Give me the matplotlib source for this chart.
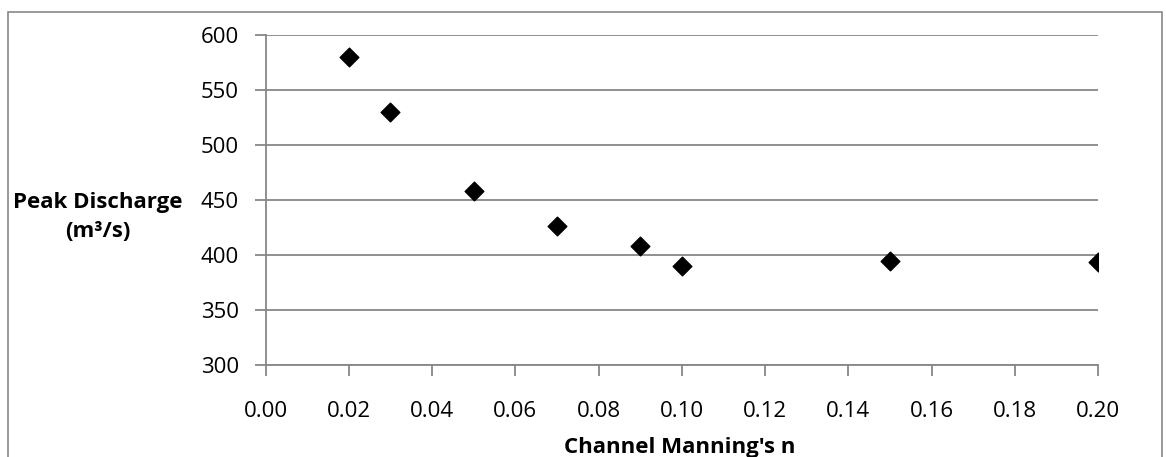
import matplotlib
matplotlib.use("Agg")
import matplotlib.pyplot as plt
from matplotlib.patches import Rectangle

manning_n = [0.02, 0.03, 0.05, 0.07, 0.09, 0.10, 0.15, 0.20]
peak_discharge = [580, 530, 458, 426, 408, 390, 394.5, 393.5]
x_ticks = [0.00, 0.02, 0.04, 0.06, 0.08, 0.10, 0.12, 0.14, 0.16, 0.18, 0.20]
y_ticks = [300, 350, 400, 450, 500, 550, 600]

plt.rcParams['font.family'] = ['Open Sans', 'DejaVu Sans']
W, H = 1166, 457
fig = plt.figure(figsize=(W / 100, H / 100), dpi=100)
grey = '#878787'

# outer chart border
fig.patches.append(Rectangle((8 / W, -0.1), (1162 - 8) / W, 1.1 - 12 / H,
                             transform=fig.transFigure, fill=False,
                             edgecolor=grey, linewidth=1.2))

ax = fig.add_axes([265.5 / W, 1 - 365 / H, (1098 - 265.5) / W, (365 - 35) / H])
ax.scatter(manning_n, peak_discharge, marker='D', s=9.5 ** 2, color='black', zorder=3)

ax.set_xlim(0, 0.20)
ax.set_ylim(300, 600)
ax.set_xticks(x_ticks)
ax.set_xticklabels([f"{t:.2f}" for t in x_ticks])
ax.set_yticks(y_ticks)
ax.grid(axis='y', color=grey, linewidth=1.3)
ax.set_axisbelow(True)
for s in ['top', 'right']:
    ax.spines[s].set_visible(False)
for s in ['left', 'bottom']:
    ax.spines[s].set_color(grey)
    ax.spines[s].set_linewidth(1.3)
ax.tick_params(axis='both', colors=grey, length=8, width=1.3, labelsize=16,
               labelcolor='black')
ax.tick_params(axis='y', pad=11)
ax.tick_params(axis='x', pad=18)

fig.text(98 / W, 1 - 217 / H, "Peak Discharge\n(m\u00b3/s)", ha='center', va='center',
         fontsize=16, fontweight='bold', linespacing=1.45)
fig.text(680 / W, 1 - 448 / H, "Channel Manning's n", ha='center', va='center',
         fontsize=16, fontweight='bold')

fig.savefig('out.png', dpi=100)
